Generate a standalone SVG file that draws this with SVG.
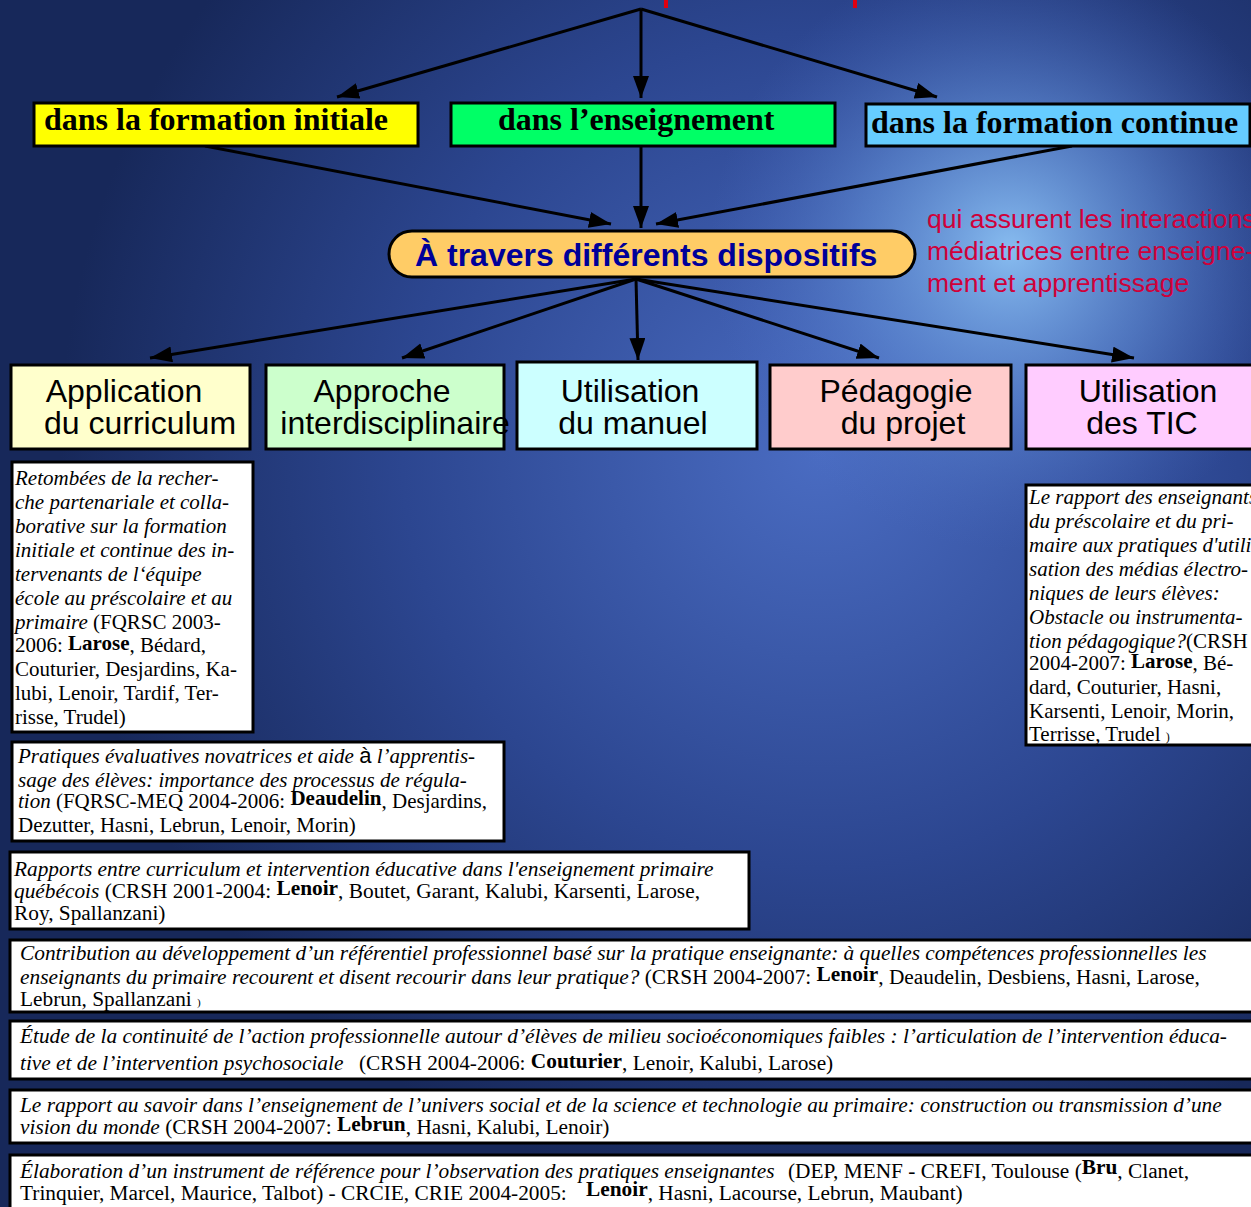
<svg xmlns="http://www.w3.org/2000/svg" width="1251" height="1207" viewBox="0 0 1251 1207">
<defs>
<radialGradient id="g1" gradientUnits="userSpaceOnUse" cx="820" cy="450" r="760">
<stop offset="0" stop-color="#4a6cc2"/>
<stop offset="0.55" stop-color="#2c4690"/>
<stop offset="1" stop-color="#17285a"/>
</radialGradient>
<radialGradient id="g2" gradientUnits="userSpaceOnUse" cx="1010" cy="250" r="300">
<stop offset="0" stop-color="#8cc2f4" stop-opacity="0.95"/>
<stop offset="0.5" stop-color="#6a9ae0" stop-opacity="0.5"/>
<stop offset="1" stop-color="#4a6cc2" stop-opacity="0"/>
</radialGradient>
<marker id="ah" markerUnits="userSpaceOnUse" markerWidth="24" markerHeight="18" refX="22" refY="8" orient="auto">
<path d="M0,0 L22,8 L0,16 z" fill="#000"/>
</marker>
<style>
.cn{stroke:#000;stroke-width:3;fill:none;marker-end:url(#ah)}
.top{stroke:#000;stroke-width:3}
.tb{font-family:"Liberation Serif",serif;font-weight:bold;font-size:32px;fill:#000}
.dv{stroke:#000;stroke-width:3}
.bx{font-family:"Liberation Sans",Arial,sans-serif;font-size:32px;fill:#000;text-anchor:middle}
.wb{fill:#fff;stroke:#000;stroke-width:3}
.t{font-family:"Liberation Serif",serif;font-size:21px;fill:#000}
.s{font-size:21.33px}
.i{font-style:italic}
.b{font-weight:bold}
.red{font-family:"Liberation Sans",Arial,sans-serif;font-size:26.5px;fill:#d0003a}
</style>
</defs>
<rect width="1251" height="1207" fill="url(#g1)"/>
<rect width="1251" height="1207" fill="url(#g2)"/>
<rect x="664" y="0" width="4" height="8" fill="#e00010"/>
<rect x="853" y="0" width="4" height="8" fill="#e00010"/>

<g id="connectors">
<line class="cn" x1="641" y1="9" x2="337" y2="97"/>
<line class="cn" x1="641" y1="9" x2="641" y2="98"/>
<line class="cn" x1="641" y1="9" x2="937" y2="97"/>
<line class="cn" x1="205" y1="146" x2="611" y2="224"/>
<line class="cn" x1="641" y1="146" x2="641" y2="228"/>
<line class="cn" x1="1072" y1="146" x2="656" y2="224"/>
<line class="cn" x1="636" y1="279" x2="150" y2="358"/>
<line class="cn" x1="636" y1="279" x2="402" y2="358"/>
<line class="cn" x1="636" y1="279" x2="638" y2="360"/>
<line class="cn" x1="636" y1="279" x2="879" y2="358"/>
<line class="cn" x1="636" y1="279" x2="1134" y2="358"/>
</g>

<g id="formation-initiale">
<rect class="top" x="34" y="103" width="384" height="43" fill="#ffff00"/>
<text class="tb" x="44" y="130">dans la formation initiale</text>
</g>
<g id="enseignement">
<rect class="top" x="451" y="103" width="384" height="43" fill="#00ff66"/>
<text class="tb" x="498" y="130">dans l’enseignement</text>
</g>
<g id="formation-continue">
<rect class="top" x="866" y="104" width="384" height="42" fill="#66ccff"/>
<text class="tb" x="871" y="133">dans la formation continue</text>
</g>

<g id="dispositifs">
<rect x="389" y="231" width="526" height="46" rx="23" ry="23" fill="#ffcc66" stroke="#000" stroke-width="3"/>
<text x="415" y="266" font-family="Liberation Sans, Arial, sans-serif" font-weight="bold" font-size="32" fill="#000099">À travers différents dispositifs</text>
</g>

<g id="note">
<text class="red" x="927" y="228">qui assurent les interactions</text>
<text class="red" x="927" y="260">médiatrices entre enseigne-</text>
<text class="red" x="927" y="292">ment et apprentissage</text>
</g>

<g id="curriculum">
<rect class="dv" x="11" y="365" width="239" height="84" fill="#ffffcc"/>
<text class="bx" x="124" y="402">Application</text>
<text class="bx" x="140" y="434">du curriculum</text>
</g>
<g id="interdisciplinaire">
<rect class="dv" x="266" y="365" width="238" height="84" fill="#ccffcc"/>
<text class="bx" x="382" y="402">Approche</text>
<text class="bx" x="395" y="434">interdisciplinaire</text>
</g>
<g id="manuel">
<rect class="dv" x="517" y="362" width="240" height="87" fill="#ccffff"/>
<text class="bx" x="630" y="402">Utilisation</text>
<text class="bx" x="633" y="434">du manuel</text>
</g>
<g id="projet">
<rect class="dv" x="770" y="365" width="241" height="84" fill="#ffcccc"/>
<text class="bx" x="896" y="402">Pédagogie</text>
<text class="bx" x="903" y="434">du projet</text>
</g>
<g id="tic">
<rect class="dv" x="1026" y="365" width="230" height="84" fill="#ffccff"/>
<text class="bx" x="1148" y="402">Utilisation</text>
<text class="bx" x="1142" y="434">des TIC</text>
</g>

<g id="p-retombees">
<rect class="wb" x="12" y="462" width="241" height="270"/>
<text class="t" x="15" y="485"><tspan class="i">Retombées de la recher-</tspan>
<tspan class="i" x="15" y="509">che partenariale et colla-</tspan>
<tspan class="i" x="15" y="533">borative sur la formation</tspan>
<tspan class="i" x="15" y="557">initiale et continue des in-</tspan>
<tspan class="i" x="15" y="581">tervenants de l‘équipe</tspan>
<tspan class="i" x="15" y="605">école au préscolaire et au</tspan>
<tspan class="i" x="15" y="629">primaire</tspan> (FQRSC 2003-<tspan x="15" y="652">2006: </tspan><tspan class="b" dy="-2">Larose</tspan><tspan dy="2">, Bédard,</tspan>
<tspan x="15" y="676">Couturier, Desjardins, Ka-</tspan>
<tspan x="15" y="700">lubi, Lenoir, Tardif, Ter-</tspan>
<tspan x="15" y="724">risse, Trudel)</tspan></text>
</g>

<g id="p-tic">
<rect class="wb" x="1026" y="485" width="240" height="260"/>
<text class="t" x="1029" y="504"><tspan class="i">Le rapport des enseignants</tspan>
<tspan class="i" x="1029" y="528">du préscolaire et du pri-</tspan>
<tspan class="i" x="1029" y="552">maire aux pratiques d'utili-</tspan>
<tspan class="i" x="1029" y="576">sation des médias électro-</tspan>
<tspan class="i" x="1029" y="600">niques de leurs élèves:</tspan>
<tspan class="i" x="1029" y="624">Obstacle ou instrumenta-</tspan>
<tspan class="i" x="1029" y="648">tion pédagogique?</tspan>(CRSH<tspan x="1029" y="670">2004-2007: </tspan><tspan class="b" dy="-2">Larose</tspan><tspan dy="2">, Bé-</tspan>
<tspan x="1029" y="694">dard, Couturier, Hasni,</tspan>
<tspan x="1029" y="718">Karsenti, Lenoir, Morin,</tspan>
<tspan x="1029" y="741">Terrisse, Trudel </tspan><tspan font-size="12">)</tspan></text>
</g>

<g id="p-pratiques">
<rect class="wb" x="12" y="742" width="492" height="99"/>
<text class="t" x="18" y="763"><tspan class="i">Pratiques évaluatives novatrices et aide </tspan><tspan font-family="Liberation Sans, sans-serif" font-size="22">à</tspan><tspan class="i"> l’apprentis-</tspan>
<tspan class="i" x="18" y="787">sage des élèves: importance des processus de régula-</tspan>
<tspan class="i" x="18" y="808">tion</tspan> (FQRSC-MEQ 2004-2006: <tspan class="b" dy="-3">Deaudelin</tspan><tspan dy="3">, Desjardins,</tspan>
<tspan x="18" y="832">Dezutter, Hasni, Lebrun, Lenoir, Morin)</tspan></text>
</g>

<g id="p-rapports">
<rect class="wb" x="10" y="852" width="739" height="77"/>
<text class="t s" x="14" y="876"><tspan class="i">Rapports entre curriculum et intervention éducative dans l'enseignement primaire</tspan>
<tspan class="i" x="14" y="898">québécois</tspan>  (CRSH 2001-2004: <tspan class="b" dy="-3">Lenoir</tspan><tspan dy="3">, Boutet, Garant, Kalubi, Karsenti, Larose,</tspan>
<tspan x="14" y="920">Roy, Spallanzani)</tspan></text>
</g>

<g id="p-contribution">
<rect class="wb" x="10" y="940" width="1250" height="72"/>
<text class="t s" x="20" y="960"><tspan class="i">Contribution au développement d’un référentiel professionnel basé sur la pratique enseignante: à quelles compétences professionnelles les</tspan>
<tspan class="i" x="20" y="984">enseignants du primaire recourent et disent recourir dans leur pratique?</tspan> (CRSH 2004-2007: <tspan class="b" dy="-3">Lenoir</tspan><tspan dy="3">, Deaudelin, Desbiens, Hasni, Larose,</tspan>
<tspan x="20" y="1006">Lebrun, Spallanzani </tspan><tspan font-size="11">)</tspan></text>
</g>

<g id="p-etude">
<rect class="wb" x="10" y="1021" width="1250" height="58"/>
<text class="t s" x="20" y="1043"><tspan class="i">Étude de la continuité de l’action professionnelle autour d’élèves de milieu socioéconomiques faibles : l’articulation de l’intervention éduca-</tspan>
<tspan class="i" x="20" y="1070">tive et de l’intervention psychosociale</tspan><tspan x="359">(CRSH 2004-2006: </tspan><tspan class="b" dy="-2">Couturier</tspan><tspan dy="2">, Lenoir,  Kalubi, Larose)</tspan></text>
</g>

<g id="p-savoir">
<rect class="wb" x="10" y="1090" width="1250" height="53"/>
<text class="t s" x="20" y="1112"><tspan class="i">Le rapport au savoir dans l’enseignement de l’univers social et de la science et technologie au primaire: construction ou transmission d’une</tspan>
<tspan class="i" x="20" y="1134">vision du monde</tspan> (CRSH 2004-2007: <tspan class="b" dy="-3">Lebrun</tspan><tspan dy="3">, Hasni, Kalubi, Lenoir)</tspan></text>
</g>

<g id="p-elaboration">
<rect class="wb" x="10" y="1155" width="1250" height="60"/>
<text class="t s" x="20" y="1178"><tspan class="i">Élaboration d’un instrument de référence pour l’observation des pratiques enseignantes</tspan><tspan x="788">(DEP, MENF - CREFI, Toulouse (</tspan><tspan class="b" dy="-4">Bru</tspan><tspan dy="4">, Clanet,</tspan>
<tspan x="20" y="1200">Trinquier, Marcel, Maurice, Talbot) - CRCIE, CRIE 2004-2005:</tspan><tspan x="586" class="b" dy="-4">Lenoir</tspan><tspan dy="4">, Hasni, Lacourse, Lebrun, Maubant)</tspan></text>
</g>
</svg>
